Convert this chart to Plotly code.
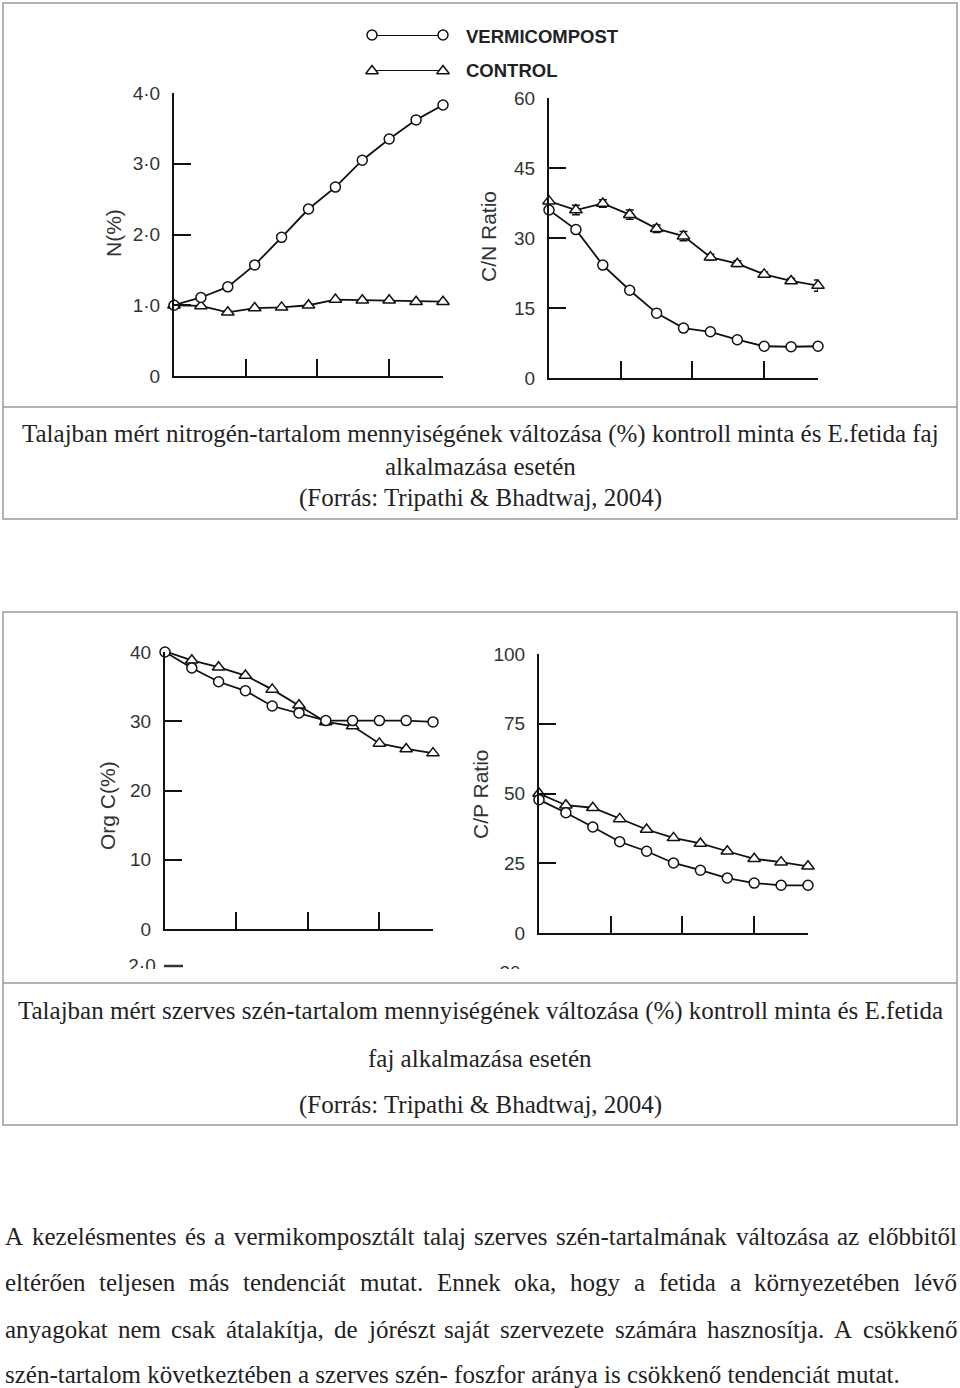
import unicodedata
import plotly.graph_objects as go

W, H = 960, 1388

# sampling days (x) - 11 samplings, 15 days apart
days = [0, 15, 30, 45, 60, 75, 90, 105, 120, 135, 150]

# N (%)
n_vermi = [1.00, 1.11, 1.26, 1.57, 1.96, 2.36, 2.67, 3.05, 3.35, 3.62, 3.83]
n_control = [1.00, 0.99, 0.90, 0.96, 0.97, 1.00, 1.08, 1.07, 1.07, 1.05, 1.05]

# C/N ratio
cn_vermi = [36.0, 31.8, 24.2, 18.8, 13.9, 10.7, 9.9, 8.2, 6.8, 6.7, 6.8]
cn_control = [37.9, 36.0, 37.4, 35.0, 32.0, 30.4, 25.9, 24.5, 22.2, 20.8, 19.8]
cn_control_err = [0, 1.0, 0.8, 1.0, 0.8, 1.0, 0.6, 0.6, 0.5, 0.5, 1.2]

# Org C (%)
orgc_vermi = [40.0, 37.7, 35.7, 34.4, 32.2, 31.2, 30.1, 30.1, 30.1, 30.1, 29.9]
orgc_control = [40.1, 38.8, 37.8, 36.6, 34.6, 32.3, 29.9, 29.3, 26.8, 26.0, 25.4]

# C/P ratio
cp_vermi = [47.8, 43.1, 38.0, 32.7, 29.3, 25.1, 22.5, 19.7, 17.9, 17.1, 17.1]
cp_control = [50.0, 45.8, 44.9, 40.9, 37.1, 34.1, 32.1, 29.3, 26.6, 25.4, 23.9]

x_ticks = [40, 80, 120, 150]
n_ticks = [0, 1, 2, 3, 4]
n_ticktext = ["0", "1·0", "2·0", "3·0", "4·0"]
cn_ticks = [0, 15, 30, 45, 60]
orgc_ticks = [0, 10, 20, 30, 40]
cp_ticks = [0, 25, 50, 75, 100]

caption1 = ["Talajban mért nitrogén-tartalom mennyiségének változása (%) kontroll minta és E.fetida faj",
            "alkalmazása esetén",
            "(Forrás: Tripathi & Bhadtwaj, 2004)"]
caption2 = ["Talajban mért szerves szén-tartalom mennyiségének változása (%) kontroll minta és E.fetida",
            "faj alkalmazása esetén",
            "(Forrás: Tripathi & Bhadtwaj, 2004)"]
paragraph = ["A kezelésmentes és a vermikomposztált talaj szerves szén-tartalmának változása az előbbitől",
             "eltérően teljesen más tendenciát mutat. Ennek oka, hogy a fetida a környezetében lévő",
             "anyagokat nem csak átalakítja, de jórészt saját szervezete számára hasznosítja. A csökkenő",
             "szén-tartalom következtében a szerves szén- foszfor aránya is csökkenő tendenciát mutat."]

INK = "#111111"
TXT = "#222222"
SANS = "Liberation Sans"
SERIF = "Liberation Serif"


def px(x):
    return x / W


def py(y):
    return 1 - y / H


fig = go.Figure()


def add_series(n, vermi, control, err=None):
    xa, ya = "x" + ("" if n == 1 else str(n)), "y" + ("" if n == 1 else str(n))
    ctrl_err = None
    if err is not None:
        ctrl_err = dict(type="data", array=err, visible=True, color=INK, thickness=1.5, width=4)
    fig.add_trace(go.Scatter(x=days, y=control, mode="lines+markers", xaxis=xa, yaxis=ya,
                             line=dict(color=INK, width=1.8), error_y=ctrl_err,
                             marker=dict(symbol="triangle-up", size=11, color="white",
                                         line=dict(color=INK, width=1.5)),
                             cliponaxis=False, showlegend=False))
    fig.add_trace(go.Scatter(x=days, y=vermi, mode="lines+markers", xaxis=xa, yaxis=ya,
                             line=dict(color=INK, width=1.8),
                             marker=dict(symbol="circle", size=10, color="white",
                                         line=dict(color=INK, width=1.5)),
                             cliponaxis=False, showlegend=False))


add_series(1, n_vermi, n_control)
add_series(2, cn_vermi, cn_control, cn_control_err)
add_series(3, orgc_vermi, orgc_control)
add_series(4, cp_vermi, cp_control)

# legend samples (own hidden axes)
fig.add_trace(go.Scatter(x=[0, 1], y=[1, 1], mode="lines+markers", xaxis="x5", yaxis="y5",
                         line=dict(color=INK, width=1.8),
                         marker=dict(symbol="circle", size=10, color="white", line=dict(color=INK, width=1.5)),
                         cliponaxis=False, showlegend=False))
fig.add_trace(go.Scatter(x=[0, 1], y=[0, 0], mode="lines+markers", xaxis="x5", yaxis="y5",
                         line=dict(color=INK, width=1.8),
                         marker=dict(symbol="triangle-up", size=11, color="white", line=dict(color=INK, width=1.5)),
                         cliponaxis=False, showlegend=False))

# cut-off remains of the next scanned chart (clipped strip)
fig.add_trace(go.Scatter(x=[142, 510], y=[967, 974], mode="text", text=["2·0", "30"], xaxis="x6", yaxis="y6",
                         textfont=dict(family=SANS, size=19, color="#333"), cliponaxis=True, showlegend=False))
fig.add_trace(go.Scatter(x=[164, 183], y=[966, 966], mode="lines", xaxis="x6", yaxis="y6",
                         line=dict(color="#333", width=2.5), cliponaxis=True, showlegend=False))


def xax(x0, x1, anchor):
    return dict(domain=[px(x0), px(x1)], range=[0, 150], anchor=anchor, tickvals=x_ticks,
                ticks="inside", ticklen=17, tickwidth=2, tickcolor=INK, showline=True,
                linecolor=INK, linewidth=2, showgrid=False, zeroline=False, showticklabels=False)


def yax(y_top, y_bot, rng, vals, text, anchor):
    return dict(domain=[py(y_bot), py(y_top)], range=rng, anchor=anchor, tickvals=vals, ticktext=text,
                ticks="inside", ticklen=17, tickwidth=2, tickcolor=INK, showline=True,
                linecolor=INK, linewidth=2, showgrid=False, zeroline=False,
                tickfont=dict(family=SANS, size=19, color="#333"), ticklabelstandoff=8)


hidden = dict(visible=False, showgrid=False, zeroline=False)

fig.update_layout(
    width=W, height=H, margin=dict(l=0, r=0, t=0, b=0, autoexpand=False),
    paper_bgcolor="white", plot_bgcolor="rgba(0,0,0,0)", showlegend=False,
    xaxis=xax(174, 443, "y"),
    yaxis=yax(93, 376, [0, 4], n_ticks, n_ticktext, "x"),
    xaxis2=xax(549, 818, "y2"),
    yaxis2=yax(98, 378, [0, 60], cn_ticks, [str(v) for v in cn_ticks], "x2"),
    xaxis3=xax(165, 433, "y3"),
    yaxis3=yax(652, 929, [0, 40], orgc_ticks, [str(v) for v in orgc_ticks], "x3"),
    xaxis4=xax(539, 808, "y4"),
    yaxis4=yax(654, 933, [0, 100], cp_ticks, [str(v) for v in cp_ticks], "x4"),
    xaxis5=dict(domain=[px(372), px(443)], range=[0, 1], anchor="y5", **hidden),
    yaxis5=dict(domain=[py(71), py(35)], range=[0, 1], anchor="x5", **hidden),
    xaxis6=dict(domain=[px(100), px(560)], range=[100, 560], anchor="y6", **hidden),
    yaxis6=dict(domain=[py(969), py(940)], range=[969, 940], anchor="x6", **hidden),
)

annotations = []


def note(x, y, text, size, family=SERIF, xanchor="center", angle=0, color=TXT, bold=False):
    if bold:
        text = "<b>" + text + "</b>"
    annotations.append(dict(x=px(x), y=py(y), xref="paper", yref="paper", text=text, showarrow=False,
                            xanchor=xanchor, yanchor="middle", textangle=angle, borderpad=0,
                            font=dict(family=family, size=size, color=color)))


# legend labels
note(465, 36, "VERMICOMPOST", 18.5, SANS, "left", color="#222", bold=True)
note(465, 71, "CONTROL", 18.5, SANS, "left", color="#222", bold=True)

# axis titles
note(113, 233, "N(%)", 21, SANS, angle=-90, color="#333")
note(488, 237, "C/N Ratio", 21, SANS, angle=-90, color="#333")
note(107, 806, "Org C(%)", 21, SANS, angle=-90, color="#333")
note(480, 794, "C/P Ratio", 21, SANS, angle=-90, color="#333")

# captions
for text, y in zip(caption1, [434, 466, 498]):
    note(480, y, text, 25)
for text, y in zip(caption2, [1011, 1058, 1105]):
    note(480, y, text, 25)

# Times / Liberation Serif advance widths (per 1000 em) for justifying the paragraph
widths = {" ": 250, "A": 722, "E": 611, "a": 444, "b": 500, "c": 444, "d": 500, "e": 444, "f": 333,
          "g": 500, "h": 500, "i": 278, "j": 278, "k": 500, "l": 278, "m": 778, "n": 500, "o": 500,
          "p": 500, "r": 333, "s": 389, "t": 278, "u": 500, "v": 500, "y": 500, "z": 444,
          ".": 250, ",": 250, "-": 333}


def word_width(word, size):
    total = 0
    for ch in word:
        base = unicodedata.normalize("NFD", ch)[0]
        total += widths.get(base, 500)
    return total * size / 1000


PSIZE = 25
left, right = 4, 956
for i, (line, y) in enumerate(zip(paragraph, [1236, 1282, 1329, 1374])):
    if i == len(paragraph) - 1:
        note(left, y, line, PSIZE, xanchor="left")
        continue
    words = line.split(" ")
    ws = [word_width(w, PSIZE) for w in words]
    gap = (right - left - sum(ws)) / (len(words) - 1)
    x = left
    for w, wd in zip(words, ws):
        note(x, y, w, PSIZE, xanchor="left")
        x += wd + gap

fig.update_layout(annotations=annotations)

# table cell borders
BORDER = "#9a9a9a"
shapes = []
for (y0, ymid, y1) in [(3, 407, 519), (612, 983, 1125)]:
    shapes.append(dict(type="rect", xref="paper", yref="paper", x0=px(3), x1=px(957), y0=py(y0), y1=py(y1),
                       line=dict(color=BORDER, width=1.5)))
    shapes.append(dict(type="line", xref="paper", yref="paper", x0=px(3), x1=px(957), y0=py(ymid), y1=py(ymid),
                       line=dict(color=BORDER, width=1.5)))
fig.update_layout(shapes=shapes)

# page without default body margin so the 960x1388 figure fills the window exactly
fig.write_html("out.html", config={"displayModeBar": False},
               post_script="document.body.style.margin='0';document.body.style.overflow='hidden';")
